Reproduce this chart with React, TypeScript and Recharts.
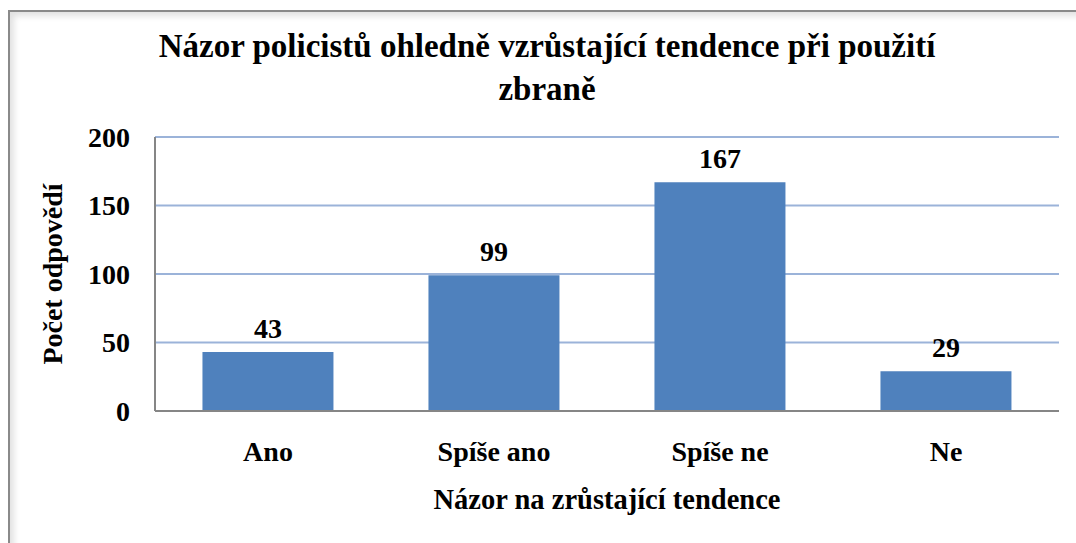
import React from 'react';
import { BarChart, Bar, XAxis, YAxis, CartesianGrid, LabelList } from 'recharts';

const categories = ['Ano', 'Spíše ano', 'Spíše ne', 'Ne'];
const counts = [43, 99, 167, 29];
const yTicks = [0, 50, 100, 150, 200];
const titleLines = ['Názor policistů ohledně vzrůstající tendence při použití', 'zbraně'];
const xTitle = 'Názor na zrůstající tendence';
const yTitle = 'Počet odpovědí';

const data = categories.map((c, i) => ({ name: c, value: counts[i] }));

const FONT = '"Liberation Serif", "Times New Roman", serif';

export default function App() {
  return (
    <div style={{ position: 'absolute', left: 0, top: 0, width: 1076, height: 543, background: '#fff', overflow: 'hidden', fontFamily: FONT }}>
      <div style={{ position: 'absolute', left: 8, top: 10, width: 1100, height: 600, borderLeft: '2px solid #8a8a8a', borderTop: '2px solid #8a8a8a', boxShadow: 'inset 4px 4px 6px rgba(0,0,0,0.12)' }} />
      <div style={{ position: 'absolute', left: 47, width: 1000, top: 25, textAlign: 'center', fontWeight: 'bold', fontSize: 33, lineHeight: '43px', color: '#000' }}>
        {titleLines.map((l, i) => (<div key={i}>{l}</div>))}
      </div>
      <div style={{ position: 'absolute', left: 0, top: 0 }}>
        <BarChart width={1076} height={543} data={data} margin={{ top: 137, right: 17, bottom: 0, left: 0 }} barCategoryGap="21%">
          <CartesianGrid vertical={false} stroke="#9bb3d9" strokeWidth={2} />
          <XAxis
            dataKey="name"
            height={132}
            axisLine={{ stroke: '#868686', strokeWidth: 2 }}
            tickLine={false}
            tickSize={0}
            tickMargin={30}
            tick={{ fill: '#000', fontSize: 28, fontWeight: 'bold', fontFamily: FONT }}
            label={{ value: xTitle, position: 'insideBottom', offset: 34, fill: '#000', fontSize: 28.5, fontWeight: 'bold', fontFamily: FONT }}
          />
          <YAxis
            width={155}
            domain={[0, 200]}
            ticks={yTicks}
            axisLine={{ stroke: '#868686', strokeWidth: 2 }}
            tickLine={false}
            tickSize={0}
            tickMargin={25}
            tick={{ fill: '#000', fontSize: 28, fontWeight: 'bold', fontFamily: FONT }}
            label={{ value: yTitle, angle: -90, position: 'insideLeft', offset: 52, fill: '#000', fontSize: 28, fontWeight: 'bold', fontFamily: FONT, style: { textAnchor: 'middle' } }}
          />
          <Bar dataKey="value" fill="#4f81bd" isAnimationActive={false}>
            <LabelList dataKey="value" position="top" offset={14} fill="#000" fontSize={28} fontWeight="bold" fontFamily={FONT} />
          </Bar>
        </BarChart>
      </div>
    </div>
  );
}
